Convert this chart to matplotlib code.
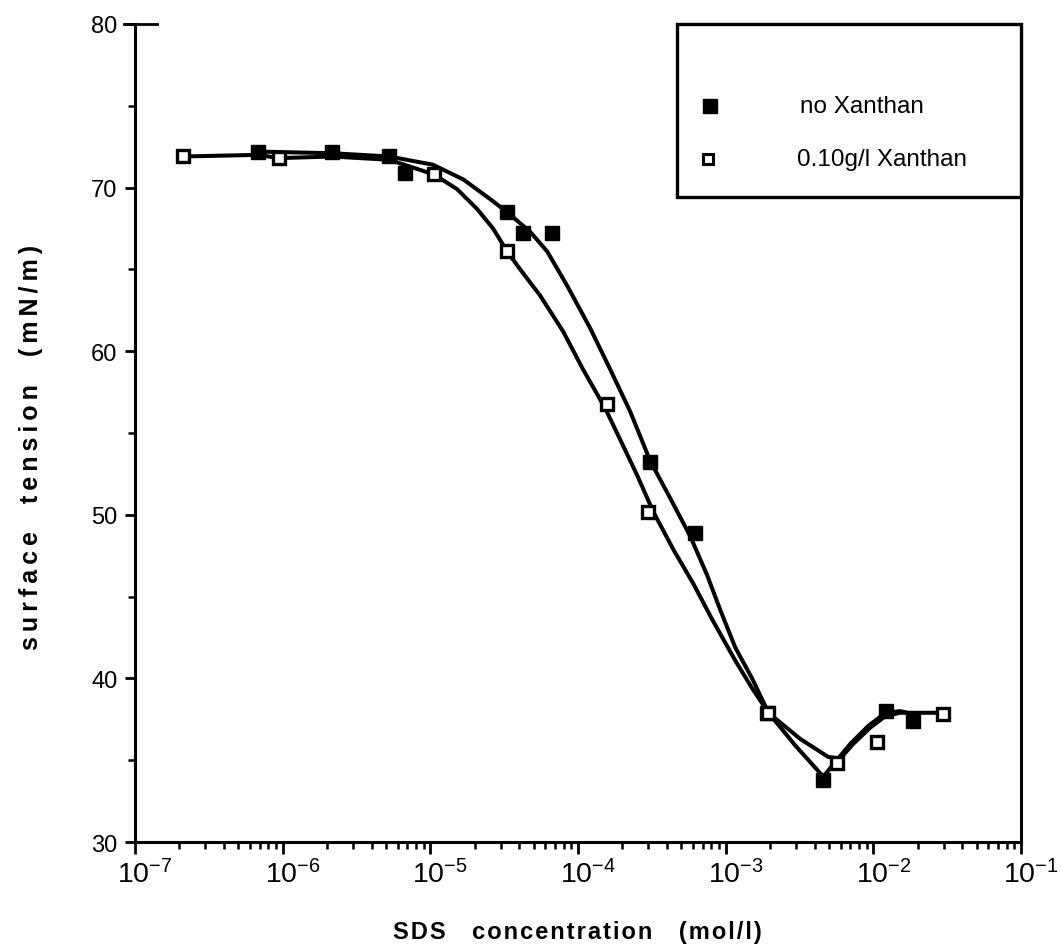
import matplotlib
matplotlib.use('Agg')
import matplotlib.pyplot as plt
from matplotlib.ticker import FixedLocator, LogLocator, MultipleLocator, NullFormatter
from matplotlib.transforms import ScaledTranslation
from matplotlib.patches import Rectangle
from matplotlib.lines import Line2D

plt.rcParams['font.family'] = ['Liberation Sans', 'DejaVu Sans']
plt.rcParams['mathtext.fontset'] = 'custom'
plt.rcParams['mathtext.rm'] = 'Liberation Sans'

# measured surface tension, SDS alone
plain_conc = [6.8e-7, 2.16e-6, 5.26e-6, 6.75e-6, 3.31e-5, 4.26e-5, 6.68e-5,
              3.08e-4, 6.22e-4, 1.91e-3, 4.58e-3, 1.21e-2, 1.87e-2]
plain_tension = [72.2, 72.2, 71.9, 70.9, 68.5, 67.2, 67.2,
                 53.2, 48.9, 37.9, 33.8, 38.0, 37.4]

# measured surface tension, SDS + 0.10 g/l xanthan
xanthan_conc = [2.11e-7, 9.46e-7, 1.06e-5, 3.31e-5, 1.58e-4, 2.99e-4,
                1.95e-3, 5.70e-3, 1.06e-2, 2.98e-2]
xanthan_tension = [71.9, 71.8, 70.8, 66.1, 56.8, 50.2,
                   37.9, 34.8, 36.1, 37.8]

# hand drawn guide curves
plain_fit_conc = [6.8e-7, 2.16e-6, 5.26e-6, 1.04e-5, 1.67e-5, 2.54e-5, 3.31e-5,
                  4.74e-5, 6.18e-5, 8.45e-5, 1.21e-4, 1.65e-4, 2.26e-4, 3.08e-4,
                  4.22e-4, 5.75e-4, 7.50e-4, 9.18e-4, 1.16e-3, 1.51e-3, 1.95e-3,
                  2.96e-3, 4.58e-3, 6.98e-3, 9.25e-3, 1.21e-2, 1.52e-2, 1.90e-2]
plain_fit_tension = [72.2, 72.1, 71.9, 71.4, 70.5, 69.3, 68.5,
                     67.3, 66.1, 64.0, 61.4, 58.9, 56.3, 53.3,
                     51.0, 48.7, 46.3, 44.2, 41.9, 40.0, 37.9,
                     35.9, 34.0, 36.0, 37.1, 37.9, 38.0, 37.8]

xanthan_fit_conc = [2.11e-7, 6.8e-7, 9.46e-7, 2.16e-6, 5.26e-6, 1.06e-5, 1.52e-5,
                    2.07e-5, 2.66e-5, 3.31e-5, 4.06e-5, 5.54e-5, 7.94e-5, 1.08e-4,
                    1.53e-4, 1.93e-4, 2.52e-4, 3.23e-4, 4.41e-4, 6.03e-4, 8.11e-4,
                    1.16e-3, 1.51e-3, 1.95e-3, 3.20e-3, 4.95e-3, 5.97e-3, 7.31e-3,
                    9.55e-3, 1.21e-2, 1.52e-2, 2.98e-2]
xanthan_fit_tension = [71.9, 72.0, 71.8, 71.9, 71.7, 70.8, 69.9,
                       68.7, 67.5, 66.1, 65.0, 63.4, 61.2, 58.9,
                       56.5, 54.6, 52.4, 50.2, 47.9, 45.8, 43.6,
                       41.1, 39.4, 37.9, 36.3, 35.2, 35.1, 36.0,
                       37.0, 37.7, 37.9, 37.9]

x_ticks = [1e-7, 1e-6, 1e-5, 1e-4, 1e-3, 1e-2, 1e-1]
x_labels = [r'$\mathregular{10^{-7}}$', r'$\mathregular{10^{-6}}$', r'$\mathregular{10^{-5}}$',
            r'$\mathregular{10^{-4}}$', r'$\mathregular{10^{-3}}$', r'$\mathregular{10^{-2}}$',
            r'$\mathregular{10^{-1}}$']
y_ticks = [30, 40, 50, 60, 70, 80]


def spaced(words, gap, sep):
    # open up the lettering between characters and words
    return sep.join(gap.join(w) for w in words)


fig = plt.figure(figsize=(10.62, 9.53), dpi=100, facecolor='white')
ax = fig.add_axes([0.1271, 0.1154, 0.8343, 0.8584])

ax.plot(plain_fit_conc, plain_fit_tension, color='black', lw=2.9,
        solid_joinstyle='round', solid_capstyle='round', zorder=2)
ax.plot(xanthan_fit_conc, xanthan_fit_tension, color='black', lw=2.9,
        solid_joinstyle='round', solid_capstyle='round', zorder=2)
ax.plot(plain_conc, plain_tension, ls='none', marker='s', ms=9.5,
        mfc='black', mec='black', mew=1, zorder=3)
ax.plot(xanthan_conc, xanthan_tension, ls='none', marker='s', ms=8.5,
        mfc='white', mec='black', mew=2.4, zorder=4)

ax.set_xscale('log')
ax.set_xlim(1e-7, 1e-1)
ax.set_ylim(30, 80)
ax.xaxis.set_major_locator(FixedLocator(x_ticks))
ax.set_xticklabels(x_labels)
ax.xaxis.set_minor_locator(LogLocator(base=10, subs=range(2, 10), numticks=20))
ax.xaxis.set_minor_formatter(NullFormatter())
ax.set_yticks(y_ticks)
ax.yaxis.set_minor_locator(MultipleLocator(5))

ax.spines['top'].set_visible(False)
for side in ['left', 'bottom', 'right']:
    ax.spines[side].set_linewidth(2.2)
ax.tick_params(axis='both', which='major', direction='out', width=2.0, color='black')
ax.tick_params(axis='x', which='major', length=8.5, pad=4, labelsize=20.5)
ax.tick_params(axis='x', which='minor', direction='out', length=5, width=1.8)
ax.tick_params(axis='y', which='major', length=7.5, pad=5, labelsize=17)
ax.tick_params(axis='y', which='minor', direction='out', length=5, width=1.8)
ax.tick_params(right=False, top=False)

# shift the power labels so the base sits under its tick
offset = ScaledTranslation(0.10, 0, fig.dpi_scale_trans)
for label in ax.get_xticklabels():
    label.set_transform(label.get_transform() + offset)

# small cap on the 80 tick
ax.add_line(Line2D([-0.012, 0.025], [1.0, 1.0], transform=ax.transAxes,
                   color='black', lw=2.0, clip_on=False))

# boxed key in the upper right corner
ax.add_patch(Rectangle((0.612, 0.7885), 0.388, 0.2115, transform=ax.transAxes,
                       facecolor='white', edgecolor='black', lw=2.4,
                       clip_on=False, zorder=5))
ax.plot([0.649], [0.900], transform=ax.transAxes, marker='s', ms=9.5,
        mfc='black', mec='black', ls='none', zorder=6, clip_on=False)
ax.plot([0.647], [0.835], transform=ax.transAxes, marker='s', ms=7.5,
        mfc='white', mec='black', mew=2.2, ls='none', zorder=6, clip_on=False)
ax.text(0.7506, 0.900, 'no Xanthan', transform=ax.transAxes, fontsize=17.5,
        ha='left', va='center', zorder=6)
ax.text(0.747, 0.835, '0.10g/l Xanthan', transform=ax.transAxes, fontsize=17.5,
        ha='left', va='center', zorder=6)

fig.text(0.029, 0.530, spaced(['surface', 'tension', '(mN/m)'], '\u2009', '    '),
         rotation=90, fontsize=18, fontweight='bold', ha='center', va='center')
fig.text(0.544, 0.021, spaced(['SDS', 'concentration', '(mol/l)'], '\u200a', '    '),
         fontsize=17, fontweight='bold', ha='center', va='center')

fig.savefig('out.png', dpi=100, facecolor='white')
